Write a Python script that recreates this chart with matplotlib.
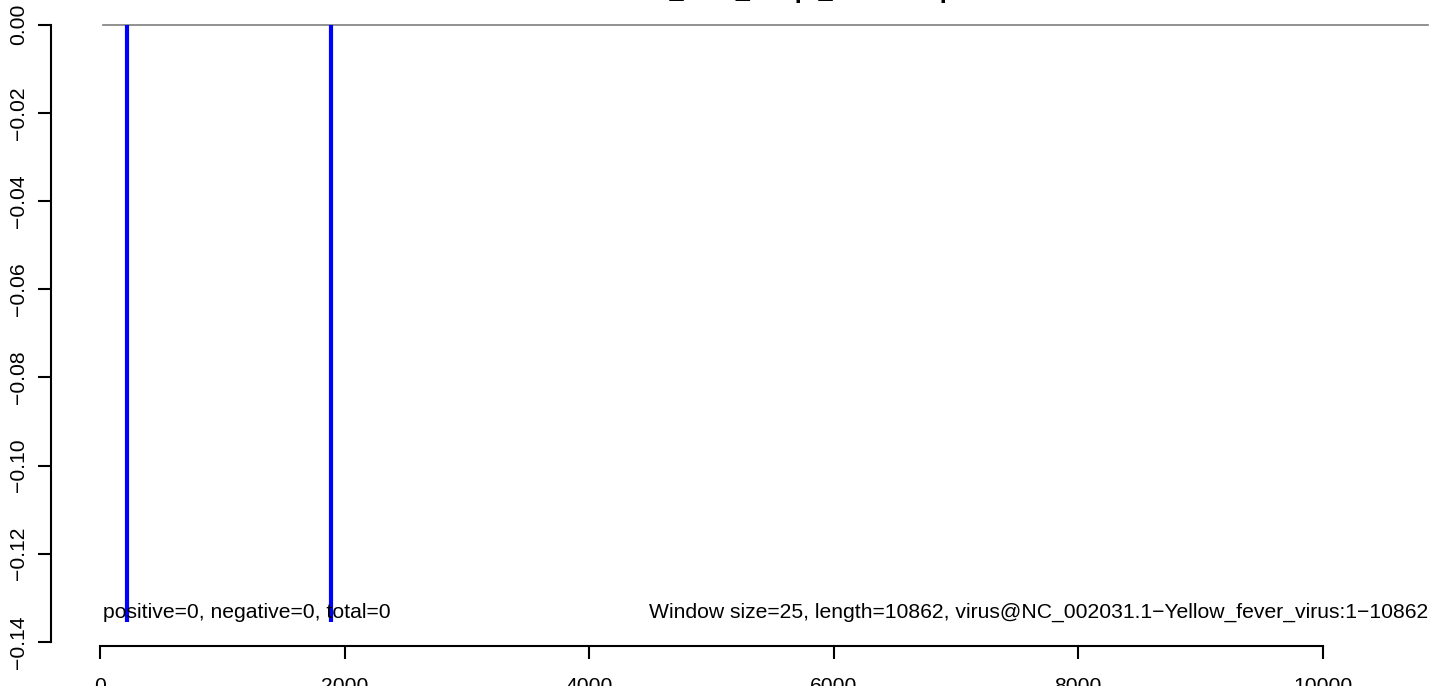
import matplotlib
matplotlib.use("Agg")
import matplotlib.pyplot as plt

plt.rcParams['font.family'] = ['Liberation Sans', 'DejaVu Sans']

# data
seq_length = 10862
window_size = 25
hit_pos = [221, 1890]          # positions of the blue bars
hit_depth = [-0.1354, -0.1354]
xticks = [0, 2000, 4000, 6000, 8000, 10000]
xtick_labels = ['0', '2000', '4000', '6000', '8000', '10000']
yticks = [0.00, -0.02, -0.04, -0.06, -0.08, -0.10, -0.12, -0.14]
ytick_labels = ['0.00', '\u22120.02', '\u22120.04', '\u22120.06', '\u22120.08',
                '\u22120.10', '\u22120.12', '\u22120.14']
counts_text = 'positive=0, negative=0, total=0'
info_text = ('Window size=25, length=10862, '
             'virus@NC_002031.1\u2212Yellow_fever_virus:1\u221210862')
title_text = 'virus_sum_subpt_windowsplot'   # title is cut off in the reference

fig = plt.figure(figsize=(14.29, 6.86), dpi=100)
ax = fig.add_axes([0, 0, 1, 1])
ax.set_xlim(-818, 10871)
ax.set_ylim(-0.15, 0.005556)

# baseline at zero
ax.plot([window_size, seq_length], [0, 0], color='#7f7f7f', lw=1.2, zorder=1)
# hits
ax.vlines(hit_pos, hit_depth, 0, color='#0000ff', lw=3, zorder=2)

fs = 15.2
ax.text(window_size, -0.1346, counts_text, fontsize=fs, ha='left', va='baseline')
ax.text(seq_length, -0.1346, info_text, fontsize=fs, ha='right', va='baseline')

# R-style axes
for s in ['top', 'right']:
    ax.spines[s].set_visible(False)
ax.spines['left'].set_position(('data', -403))
ax.spines['left'].set_bounds(-0.14, 0)
ax.spines['bottom'].set_position(('data', -0.14093))
ax.spines['bottom'].set_bounds(0, 10000)
ax.spines['left'].set_linewidth(1.5)
ax.spines['bottom'].set_linewidth(1.5)

ax.set_xticks(xticks)
ax.set_xticklabels(xtick_labels)
ax.set_yticks(yticks)
ax.set_yticklabels(ytick_labels, rotation=90, va='center')
ax.tick_params(axis='both', length=9.4, width=1.5, labelsize=fs)
ax.tick_params(axis='x', pad=13)
ax.tick_params(axis='y', pad=7)

fig.text(798 / 1429, 1 + 2.3 / 686, title_text, fontsize=18.3, fontweight='bold',
         ha='center', va='baseline')

fig.savefig('out.png', dpi=100)
